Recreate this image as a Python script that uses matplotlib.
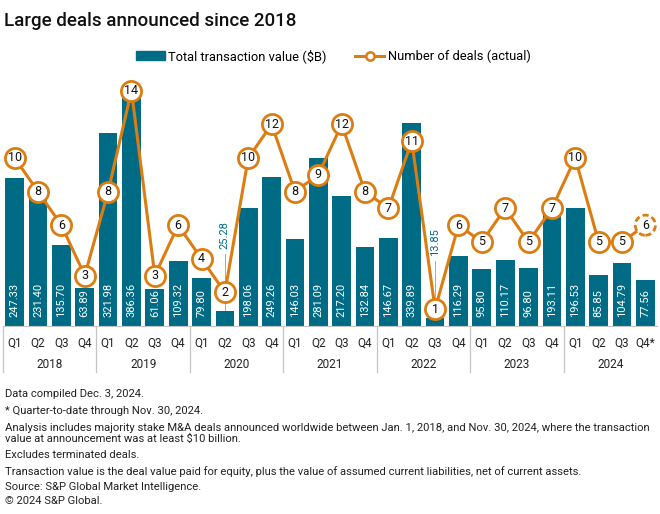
import numpy as np
import matplotlib
matplotlib.use('Agg')
import matplotlib.pyplot as plt
from matplotlib.lines import Line2D
from matplotlib.patches import Patch

plt.rcParams['font.family'] = ['Roboto', 'DejaVu Sans']

years = ['2018', '2019', '2020', '2021', '2022', '2023', '2024']
quarters = ['Q1', 'Q2', 'Q3', 'Q4'] * 6 + ['Q1', 'Q2', 'Q3', 'Q4*']
values = [247.33, 231.40, 135.70, 63.89, 321.98, 386.36, 61.06, 109.32,
          79.80, 25.28, 198.06, 249.26, 146.03, 281.09, 217.20, 132.84,
          146.67, 339.89, 13.85, 116.29, 95.80, 110.17, 96.80, 193.11,
          196.53, 85.85, 104.79, 77.56]
deals = [10, 8, 6, 3, 8, 14, 3, 6, 4, 2, 10, 12, 8, 9, 12, 8,
         7, 11, 1, 6, 5, 7, 5, 7, 10, 5, 5, 6]

teal = '#006b85'
orange = '#dc7d12'
grid = '#c4c4c4'

fig = plt.figure(figsize=(6.6, 5.14), dpi=100)
ax = fig.add_axes([3/660, 188/514, 654/660, 246/514])
ax2 = ax.twinx()

x = np.arange(len(values))
ax.bar(x, values, width=0.8, color=teal, zorder=2)
ax.set_xlim(-0.5, len(values) - 0.5)
ax.set_ylim(0, 246/0.598)
ax2.set_ylim(0, 246/16.8)

# bar value labels
for i, v in enumerate(values):
    if v > 50:
        ax.annotate(f'{v:.2f}', (i, 0), xytext=(0, 6.5), textcoords='offset points',
                    rotation=90, ha='center', va='bottom', color='white',
                    fontsize=8, zorder=3)
    else:
        ax.plot([i, i], [v, v + 95], color='#aaaaaa', lw=0.7, zorder=1)
        ax.text(i, v + 103, f'{v:.2f}', rotation=90, ha='center', va='bottom',
                color=teal, fontsize=8)

# deals line
ax2.plot(x, deals, color=orange, lw=2.2, zorder=3)
ax2.plot(x[:-1], deals[:-1], 'o', ms=14.5, mfc='white', mec=orange, mew=2.0, zorder=4)
ax2.scatter(x[-1:], deals[-1:], s=14.5**2, facecolors='white', edgecolors=orange,
            linewidths=2.0, linestyles=(0, (2.2, 1.2)), zorder=4)
for i, d in enumerate(deals):
    ax2.text(i, d, str(d), ha='center', va='center', fontsize=9, color='#111111', zorder=5)

for a in (ax, ax2):
    a.axis('off')

# x axis: baseline, quarter and year labels, separators
trans = ax.get_xaxis_transform()
ax.plot([-0.5, len(values) - 0.5], [0, 0], color=grid, lw=0.8, transform=trans,
        clip_on=False)
for i, q in enumerate(quarters):
    ax.text(i, -17/246, q, transform=trans, ha='center', va='center',
            fontsize=8.5, color='#222222')
for k, yr in enumerate(years):
    ax.text(4*k + 1.5, -39/246, yr, transform=trans, ha='center', va='center',
            fontsize=8.5, color='#222222')
    ax.plot([4*k - 0.5, 4*k - 0.5], [0, -46/246], color=grid, lw=0.9,
            transform=trans, clip_on=False)

# title and legend
fig.text(4/660, 1 - 21/514, 'Large deals announced since 2018', fontsize=13.5,
         fontweight='medium', va='center', ha='left', color='#111111')
handles = [Patch(color=teal),
           Line2D([0], [0], color=orange, lw=2.2, marker='o', ms=6,
                  mfc='white', mec=orange, mew=1.8)]
fig.legend(handles, ['Total transaction value ($B)', 'Number of deals (actual)'],
           loc='center', bbox_to_anchor=(0.505, 1 - 56/514), ncol=2, frameon=False,
           fontsize=9.3, handlelength=2.2, handleheight=0.6, columnspacing=2.2,
           handletextpad=0.3)

# footnotes
notes = [
    (394, 'Data compiled Dec. 3, 2024.'),
    (411, '* Quarter-to-date through Nov. 30, 2024.'),
    (428, 'Analysis includes majority stake M&A deals announced worldwide between Jan. 1, 2018, and Nov. 30, 2024, where the transaction'),
    (439, 'value at announcement was at least $10 billion.'),
    (455, 'Excludes terminated deals.'),
    (472, 'Transaction value is the deal value paid for equity, plus the value of assumed current liabilities, net of current assets.'),
    (487, 'Source: S&P Global Market Intelligence.'),
    (501, '\u00a9 2024 S&P Global.'),
]
for yp, t in notes:
    fig.text(5/660, 1 - yp/514, t, fontsize=8.1, va='center', ha='left', color='#222222')

fig.savefig('out.png', dpi=100)
